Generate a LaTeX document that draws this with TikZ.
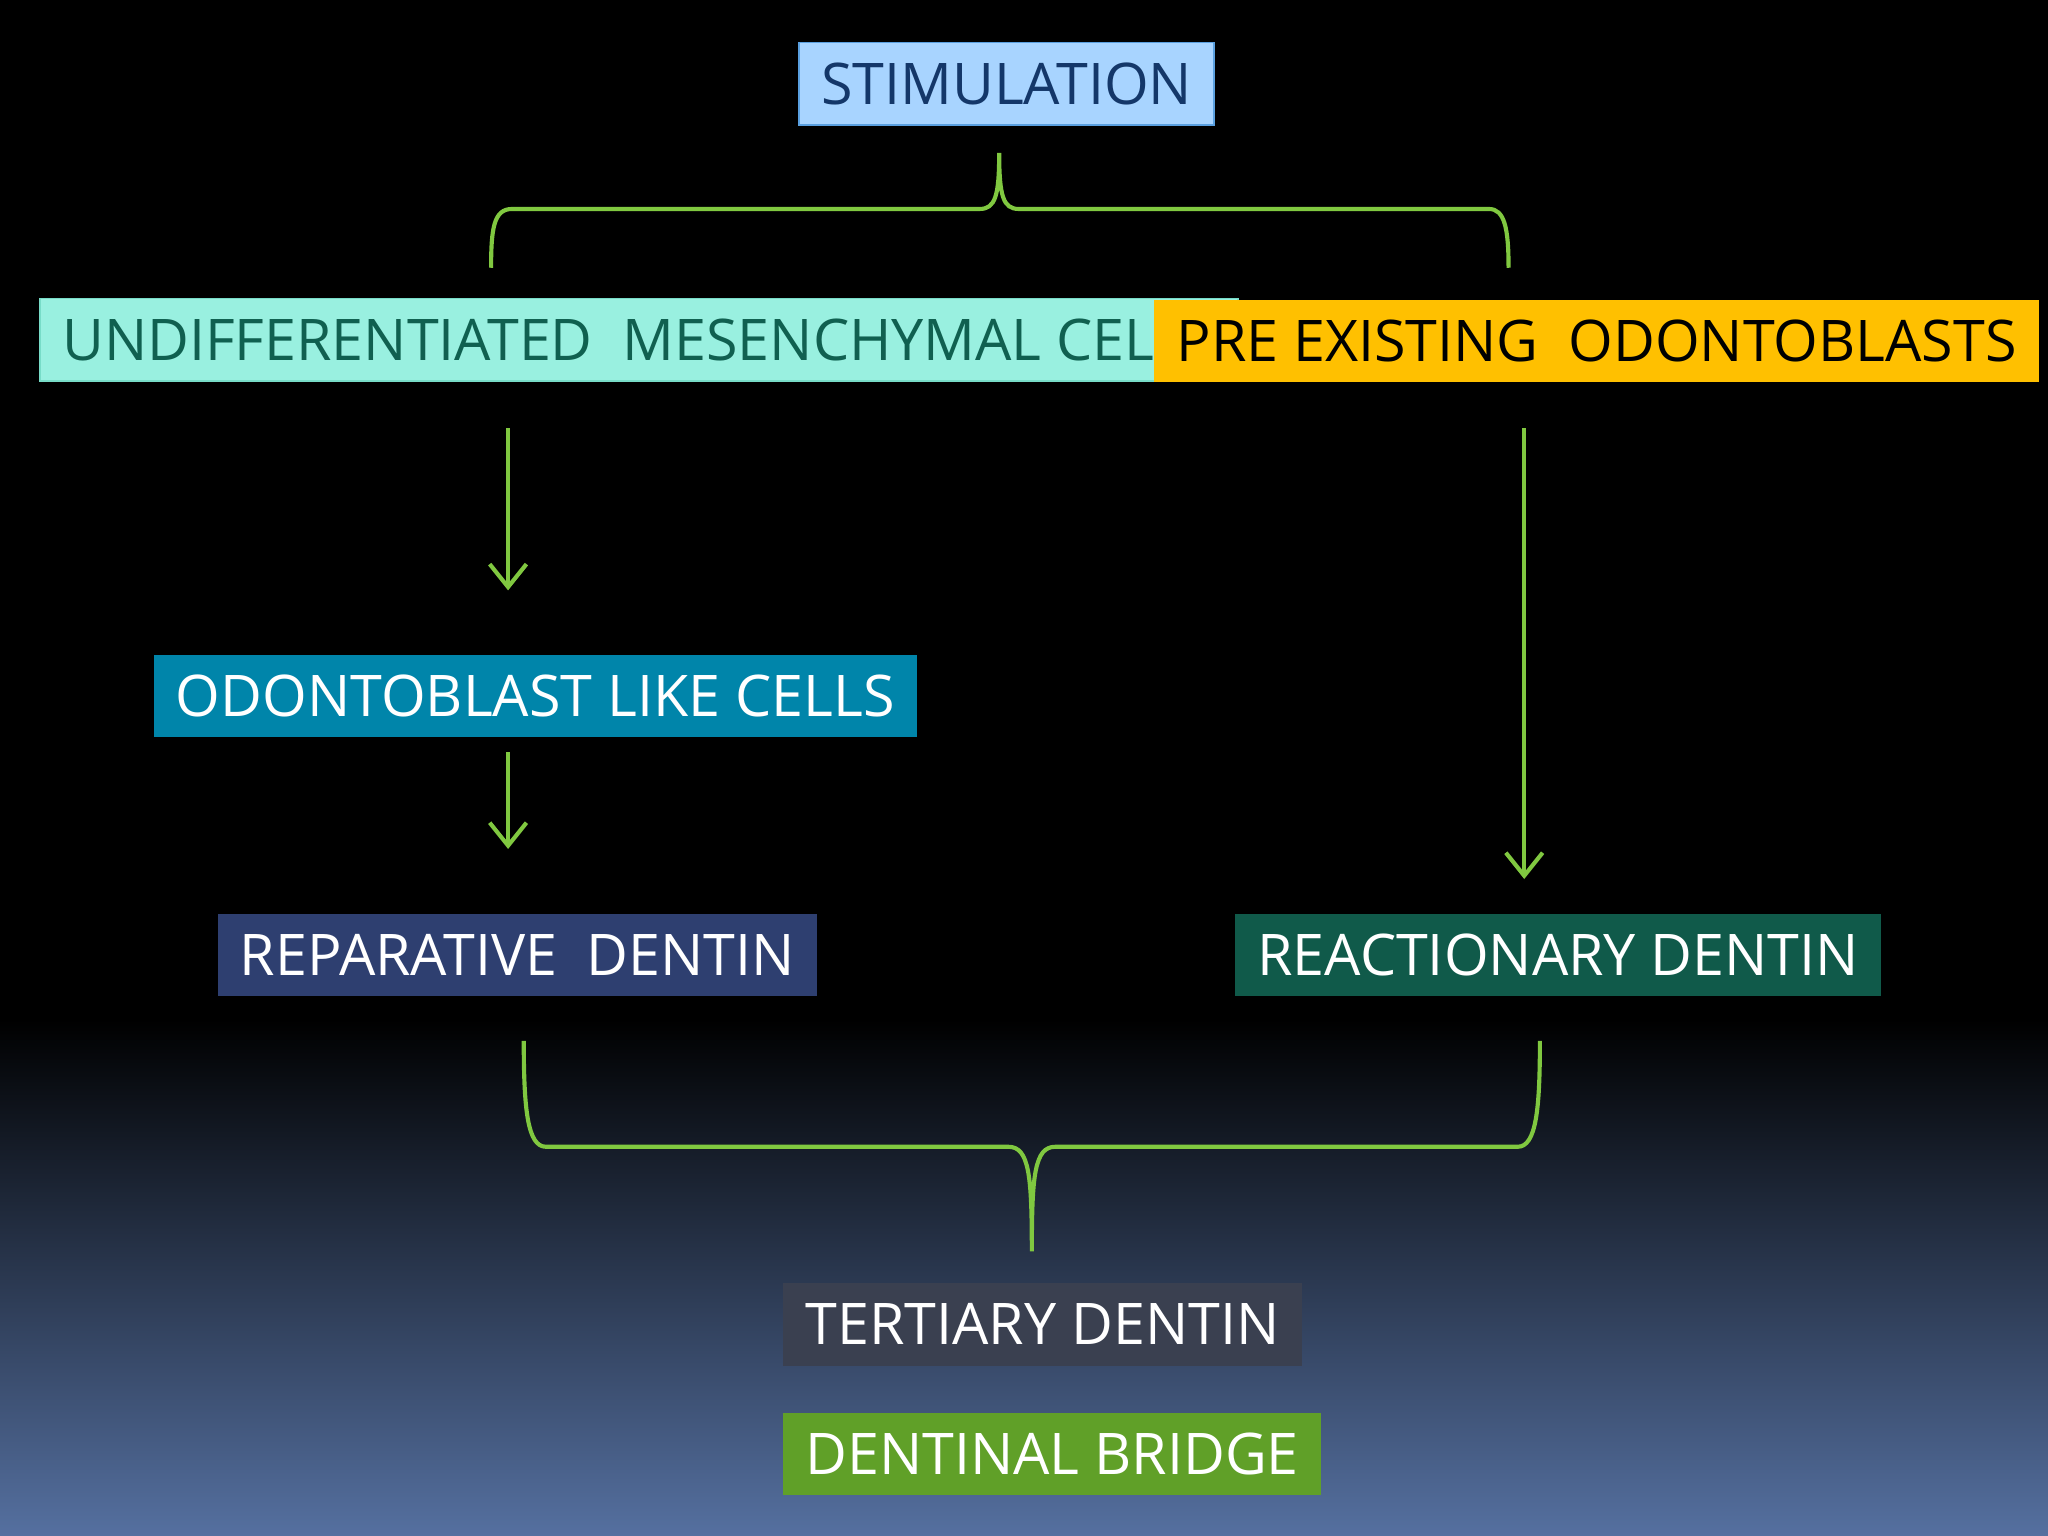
\documentclass[tikz,border=0pt]{standalone}
\usepackage{fontspec}
\setmainfont{Open Sans}
\usetikzlibrary{arrows.meta}
\definecolor{grn}{HTML}{80C840}
\definecolor{bot}{HTML}{5570A0}
\begin{document}
\begin{tikzpicture}[x=0.01cm,y=-0.01cm,
  box/.style={minimum height=0.63cm,inner xsep=0.17cm,anchor=west,font=\fontsize{12.5}{14}\selectfont,text depth=0pt},
  conn/.style={draw=grn,line width=0.9pt},
  arr/.style={conn,-{Straight Barb[length=5pt,width=8pt]}}]
\useasboundingbox (0,0) rectangle (1568,1176);
\fill[black] (0,0) rectangle (1568,781);
\shade[top color=black,bottom color=bot] (0,780) rectangle (1568,1176);
\node[box,fill=cyan!25!blue!20,fill={rgb,255:red,168;green,212;blue,255},draw={rgb,255:red,90;green,160;blue,224},text={rgb,255:red,20;green,55;blue,105},minimum width=2.96cm] (stim) at (611,64) {STIMULATION};
\node[box,fill={rgb,255:red,153;green,240;blue,224},draw={rgb,255:red,120;green,220;blue,200},text={rgb,255:red,16;green,96;blue,80},minimum width=7.91cm] (und) at (30,260) {UNDIFFERENTIATED\ \ MESENCHYMAL CELLS};
\node[box,fill={rgb,255:red,255;green,192;blue,0},text=black,minimum width=5.79cm] (pre) at (883,261) {PRE EXISTING\ \ ODONTOBLASTS};
\node[box,fill={rgb,255:red,0;green,133;blue,170},text=white,minimum width=5.43cm] (odo) at (117,533) {ODONTOBLAST LIKE CELLS};
\node[box,fill={rgb,255:red,46;green,63;blue,112},text=white,minimum width=4.57cm] (rep) at (166,731) {REPARATIVE\ \ DENTIN};
\node[box,fill={rgb,255:red,16;green,90;blue,74},text=white,minimum width=4.56cm] (rea) at (945,731) {REACTIONARY DENTIN};
\node[box,fill={rgb,255:red,58;green,64;blue,80},text=white,minimum width=3.94cm] (ter) at (599,1014) {TERTIARY DENTIN};
\node[box,fill={rgb,255:red,96;green,160;blue,40},text=white,minimum width=3.7cm] (bri) at (599,1113) {DENTINAL BRIDGE};
% top brace
\coordinate (t1) at (376,205); \coordinate (t2) at (1155,205); \coordinate (tt) at (765,117);
\draw[conn] (t1) .. controls (376,175) and (378,160) .. (392,160) -- (750,160)
  .. controls (762,160) and (765,150) .. (tt)
  .. controls (765,150) and (768,160) .. (780,160) -- (1140,160)
  .. controls (1152,160) and (1155,175) .. (t2);
% bottom brace
\coordinate (b1) at (401,797); \coordinate (b2) at (1179,797); \coordinate (bt) at (790,958);
\draw[conn] (b1) .. controls (401,850) and (404,878) .. (418,878) -- (772,878)
  .. controls (788,878) and (790,900) .. (bt)
  .. controls (790,900) and (792,878) .. (808,878) -- (1162,878)
  .. controls (1176,878) and (1179,850) .. (b2);
\coordinate (a1) at (389,328); \coordinate (a2) at (389,452);
\coordinate (a3) at (389,576); \coordinate (a4) at (389,650);
\coordinate (a5) at (1167,328); \coordinate (a6) at (1167,673);
\draw[arr] (a1) -- (a2);
\draw[arr] (a3) -- (a4);
\draw[arr] (a5) -- (a6);
\end{tikzpicture}
\end{document}
